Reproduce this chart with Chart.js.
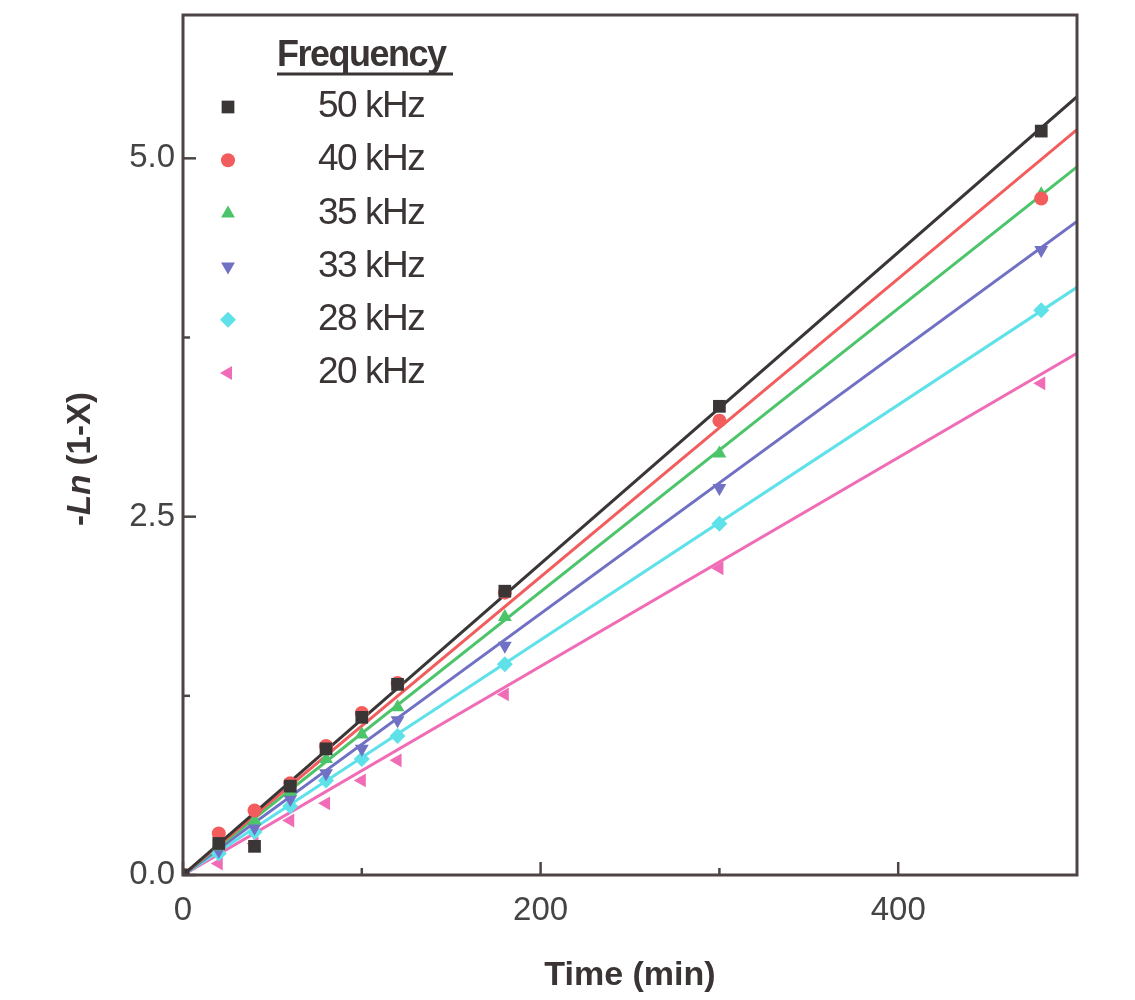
<!DOCTYPE html>
<html>
<head>
<meta charset="utf-8">
<script src="https://cdn.jsdelivr.net/npm/chart.js@4.4.1/dist/chart.umd.min.js"></script>
<style>
  html, body { margin: 0; padding: 0; background: #fff; }
  #wrap { width: 1135px; height: 1000px; }
</style>
</head>
<body>
<div id="wrap"><canvas id="chart" width="1135" height="1000"></canvas></div>
<script>
// sampling times (min)
const times = [0, 20, 40, 60, 80, 100, 120, 180, 300, 480];

const freqLabels = ["50 kHz", "40 kHz", "35 kHz", "33 kHz", "28 kHz", "20 kHz"];

// -Ln(1-X)
const y50 = [0, 0.22, 0.20, 0.62, 0.88, 1.10, 1.33, 1.98, 3.27, 5.19];
const y40 = [0, 0.29, 0.45, 0.64, 0.90, 1.13, 1.34, 1.97, 3.17, 4.72];
const y35 = [0, 0.20, 0.38, 0.58, 0.81, 0.98, 1.17, 1.80, 2.94, 4.75];
const y33 = [0, 0.17, 0.33, 0.53, 0.71, 0.88, 1.08, 1.60, 2.70, 4.36];
const y28 = [0, 0.15, 0.30, 0.48, 0.66, 0.81, 0.97, 1.47, 2.45, 3.94];
const y20 = [0, 0.08, 0.22, 0.38, 0.50, 0.66, 0.80, 1.26, 2.14, 3.43];

// linear fits through origin: value at the ends of the x range
const fitX = [0, 500];
const fitEnd = [5.43, 5.20, 4.94, 4.56, 4.10, 3.64];

const xTicks = [0, 200, 400];
const xMinor = [100, 300];
const yTicks = [0, 2.5, 5.0];
const yMinor = [1.25, 3.75];

const colors = ["#3b3636", "#f25c5c", "#4cc46a", "#7070c4", "#5fe1ea", "#f06cb6"];
const styles = ["rect", "circle", "triangle", "triangle", "rectRot", "triangle"];
const rotations = [0, 0, 0, 180, 0, -90];
const radii = [9, 7, 8, 8, 8, 8];

const series = [y50, y40, y35, y33, y28, y20];
const axisColor = "#4d4545";

const datasets = [];
series.forEach((ys, i) => {
  datasets.push({
    type: "line",
    data: fitX.map((x, j) => ({ x: x, y: j === 0 ? 0 : fitEnd[i] })),
    borderColor: colors[i],
    borderWidth: 3,
    pointRadius: 0,
    order: 2,
  });
  datasets.push({
    type: "scatter",
    data: times.map((t, j) => ({ x: t, y: ys[j] })),
    backgroundColor: colors[i],
    borderColor: colors[i],
    pointStyle: styles[i],
    rotation: rotations[i],
    pointRadius: radii[i],
    borderWidth: 0,
    order: 1,
  });
});

// box, inward ticks, y title and legend
const decor = {
  id: "decor",
  afterDraw(chart) {
    const ctx = chart.ctx;
    const a = chart.chartArea;
    const xs = chart.scales.x, ys = chart.scales.y;
    ctx.save();
    ctx.strokeStyle = axisColor;
    ctx.lineWidth = 3;
    ctx.strokeRect(a.left, a.top, a.right - a.left, a.bottom - a.top);

    ctx.lineWidth = 2.5;
    const tick = (x1, y1, x2, y2) => { ctx.beginPath(); ctx.moveTo(x1, y1); ctx.lineTo(x2, y2); ctx.stroke(); };
    xTicks.forEach(v => { const p = xs.getPixelForValue(v); tick(p, a.bottom, p, a.bottom - 13); });
    xMinor.forEach(v => { const p = xs.getPixelForValue(v); tick(p, a.bottom, p, a.bottom - 7); });
    yTicks.forEach(v => { const p = ys.getPixelForValue(v); tick(a.left, p, a.left + 13, p); });
    yMinor.forEach(v => { const p = ys.getPixelForValue(v); tick(a.left, p, a.left + 7, p); });

    // y axis title with italic "Ln"
    ctx.fillStyle = "#3a3434";
    ctx.translate(90, (a.top + a.bottom) / 2 + 14);
    ctx.rotate(-Math.PI / 2);
    const parts = [
      ["-", "bold 33px 'Liberation Sans', Arial"],
      ["Ln", "italic bold 33px 'Liberation Sans', Arial"],
      [" (1-X)", "bold 33px 'Liberation Sans', Arial"],
    ];
    let total = 0;
    parts.forEach(p => { ctx.font = p[1]; total += ctx.measureText(p[0]).width; });
    let cx = -total / 2;
    ctx.textBaseline = "alphabetic";
    parts.forEach(p => { ctx.font = p[1]; ctx.fillText(p[0], cx, 0); cx += ctx.measureText(p[0]).width; });
    ctx.setTransform(1, 0, 0, 1, 0, 0);

    // legend
    ctx.fillStyle = "#3a3434";
    ctx.font = "bold 36px 'Liberation Sans', Arial";
    ctx.letterSpacing = "-1.5px";
    ctx.textAlign = "left";
    ctx.textBaseline = "middle";
    ctx.fillText("Frequency", 277, 56);
    ctx.lineWidth = 3;
    ctx.strokeStyle = "#3a3434";
    tick(277, 74, 453, 74);
    ctx.font = "37px 'Liberation Sans', Arial";
    ctx.letterSpacing = "-1.5px";
    freqLabels.forEach((lab, i) => {
      const y = 107 + i * 53.2;
      ctx.fillStyle = colors[i];
      Chart.helpers.drawPoint(ctx, { pointStyle: styles[i], radius: radii[i], rotation: rotations[i], borderWidth: 0 }, 228, y);
      ctx.fillStyle = "#3a3434";
      ctx.fillText(lab, 318, y);
    });
    ctx.restore();
  },
};

new Chart(document.getElementById("chart").getContext("2d"), {
  data: { datasets: datasets },
  options: {
    responsive: false,
    animation: false,
    layout: { padding: { top: 15, right: 58, left: 0, bottom: 0 } },
    plugins: { legend: { display: false }, tooltip: { enabled: false } },
    scales: {
      x: {
        type: "linear",
        min: 0,
        max: 500,
        grid: { display: false, drawTicks: false },
        border: { display: false },
        afterBuildTicks: s => { s.ticks = xTicks.map(v => ({ value: v })); },
        afterFit: s => { s.height = 125; s.paddingLeft = 0; s.paddingRight = 0; },
        ticks: {
          padding: 16,
          color: "#444",
          font: { family: "'Liberation Sans', Arial", size: 33 },
          callback: v => String(v),
        },
        title: {
          display: true,
          text: "Time (min)",
          color: "#3a3434",
          font: { family: "'Liberation Sans', Arial", size: 34, weight: "bold" },
          padding: { top: 14 },
        },
      },
      y: {
        type: "linear",
        min: 0,
        max: 6,
        grid: { display: false, drawTicks: false },
        border: { display: false },
        afterBuildTicks: s => { s.ticks = yTicks.map(v => ({ value: v })); },
        afterFit: s => { s.width = 183; s.paddingTop = 0; s.paddingBottom = 0; },
        ticks: {
          padding: 8,
          color: "#444",
          font: { family: "'Liberation Sans', Arial", size: 33 },
          callback: v => Number(v).toFixed(1),
        },
      },
    },
  },
  plugins: [decor],
});
</script>
</body>
</html>
